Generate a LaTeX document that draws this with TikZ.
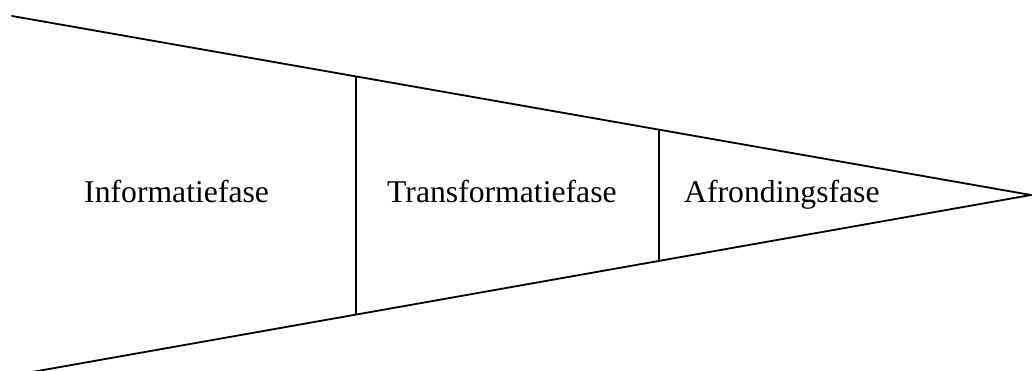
\documentclass[tikz,border=0pt]{standalone}
\usepackage{fontspec}
\setmainfont{Liberation Serif}
\usetikzlibrary{calc}
\begin{document}
\begin{tikzpicture}[x=1pt,y=-1pt,
  edge/.style={line width=1.8pt,line cap=round},
  phase/.style={anchor=base west,inner sep=0pt,font=\fontsize{31.7}{36}\selectfont}]
\useasboundingbox (0,0) rectangle (1032,371);
% funnel outline
\coordinate (topstart) at (12,16);
\coordinate (botstart) at (32,372);
\coordinate (tip) at (1031,195);
\draw[edge] (topstart) -- (tip);
\draw[edge] (botstart) -- (tip);
% phase separators
\coordinate (s1t) at ($(topstart)!{(356-12)/(1031-12)}!(tip)$);
\coordinate (s1b) at ($(botstart)!{(356-32)/(1031-32)}!(tip)$);
\coordinate (s2t) at ($(topstart)!{(659-12)/(1031-12)}!(tip)$);
\coordinate (s2b) at ($(botstart)!{(659-32)/(1031-32)}!(tip)$);
\draw[edge,line cap=butt] (s1t) -- (s1b);
\draw[edge,line cap=butt] (s2t) -- (s2b);
% phase labels
\node[phase] (info) at (84,203) {Informatiefase};
\node[phase] (trans) at (387,203) {Transformatiefase};
\node[phase] (afr) at (684,203) {Afrondingsfase};
\end{tikzpicture}
\end{document}
